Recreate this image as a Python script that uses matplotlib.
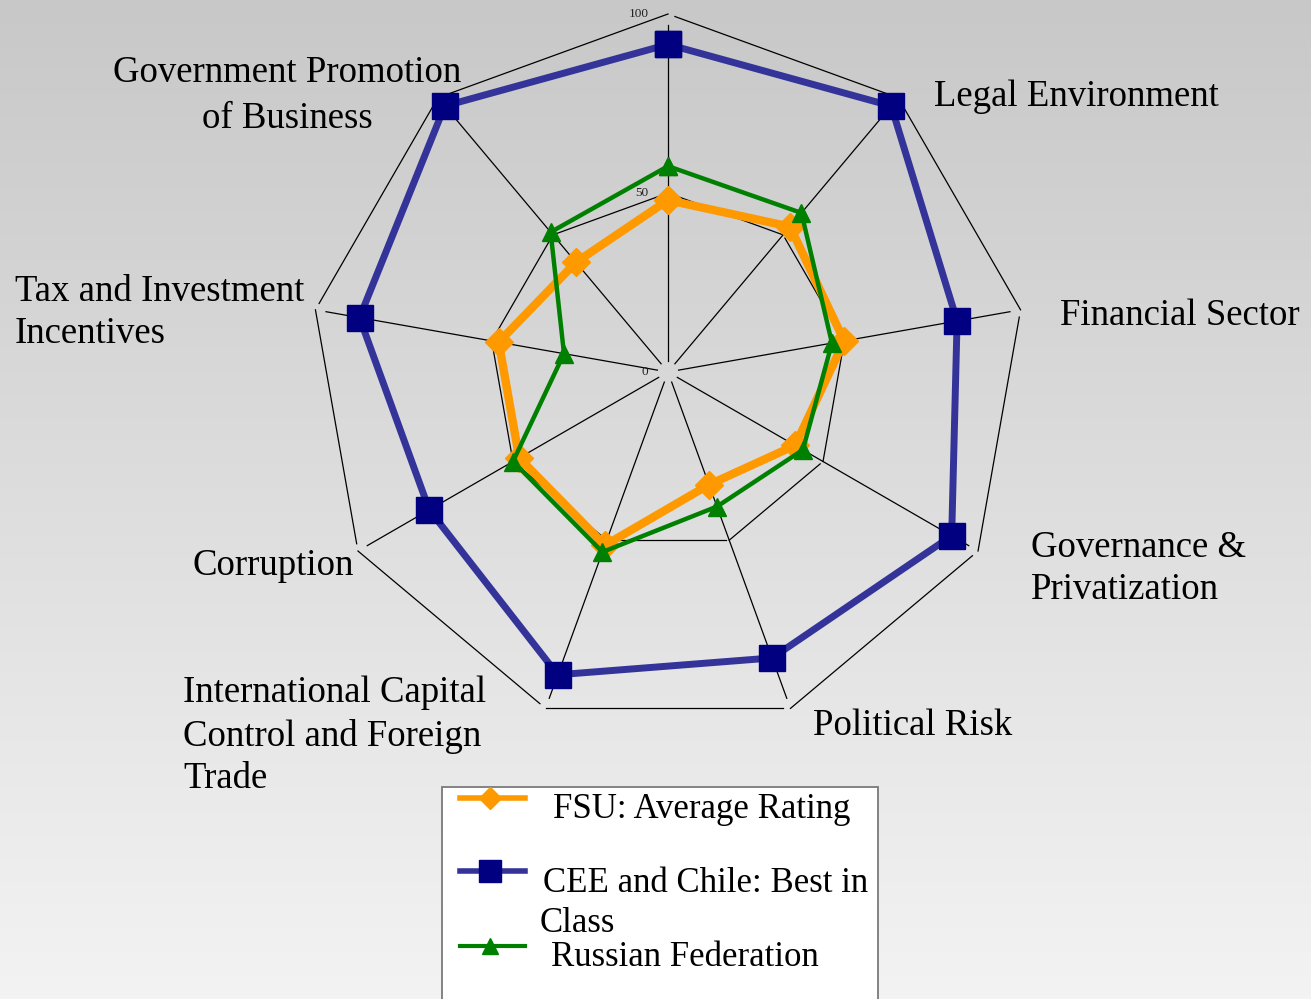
import numpy as np
import matplotlib.pyplot as plt
from matplotlib.colors import LinearSegmentedColormap
from matplotlib.patches import Rectangle

categories = ['', 'Legal Environment', 'Financial Sector', 'Governance &\nPrivatization',
              'Political Risk', 'International Capital\nControl and Foreign\nTrade',
              'Corruption', 'Tax and Investment\nIncentives', 'Government Promotion\nof Business']
fsu = [48, 53, 50, 41, 33.5, 51.5, 48, 48, 40]
best = [91.5, 97, 82, 91.5, 85, 90, 77, 87.5, 97]
russia = [57.5, 58, 46.5, 43.5, 40, 53.5, 50, 29.5, 51]
series_names = ['FSU: Average Rating', 'CEE and Chile: Best in\nClass', 'Russian Federation']
r_ticks = [0, 50, 100]

plt.rcParams['font.family'] = ['Liberation Serif', 'DejaVu Serif']

W, H = 1311, 999
fig = plt.figure(figsize=(W / 100, H / 100), dpi=100)

# background gradient + texts, in pixel coords (y down)
bg = fig.add_axes([0, 0, 1, 1], zorder=0)
cmap = LinearSegmentedColormap.from_list('bg', ['#c8c8c8', '#f3f3f3'])
bg.imshow(np.linspace(0, 1, 256).reshape(-1, 1), cmap=cmap, aspect='auto', extent=[0, W, H, 0])
bg.set_xlim(0, W)
bg.set_ylim(H, 0)
bg.axis('off')

# radar
cx, cy, R = 668, 372, 358
ax = fig.add_axes([(cx - R) / W, 1 - (cy + R) / H, 2 * R / W, 2 * R / H], projection='polar', zorder=1)
ax.set_theta_zero_location('N')
ax.set_theta_direction(-1)
ax.set_ylim(0, 100)
ax.axis('off')

n = len(categories)
theta = np.deg2rad(np.arange(n) * 360 / n)

# spokes
for t in theta:
    ax.plot([t, t], [3, 97], color='black', lw=0.9, clip_on=False)


def edge(t1, t2, r, a=0.03, b=1.0):
    p1 = np.array([r * np.cos(t1), r * np.sin(t1)])
    p2 = np.array([r * np.cos(t2), r * np.sin(t2)])
    pa = p1 + a * (p2 - p1)
    pb = p1 + b * (p2 - p1)
    return ([np.arctan2(pa[1], pa[0]), np.arctan2(pb[1], pb[0])],
            [np.hypot(*pa), np.hypot(*pb)])


# grid polygons at 50 and 100
for rr in r_ticks[1:]:
    for i in range(n):
        tt, rs = edge(theta[i], theta[(i + 1) % n], rr)
        ax.plot(tt, rs, color='black', lw=0.9, clip_on=False)

for rr in r_ticks:
    ax.annotate(str(rr), xy=(0, rr), xytext=(-14, 0), textcoords='offset points',
                ha='right', va='center', fontsize=9.5, color='#222222', annotation_clip=False)

tc = np.append(theta, theta[0])
ax.plot(tc, best + best[:1], color='#333399', lw=5, marker='s', ms=19,
        mfc='#000080', mec='#000080', clip_on=False, zorder=3)
ax.plot(tc, fsu + fsu[:1], color='#ff9900', lw=6, marker='D', ms=14,
        mfc='#ff9900', mec='#ff9900', clip_on=False, zorder=4)
ax.plot(tc, russia + russia[:1], color='#008000', lw=3.2, marker='^', ms=13,
        mfc='#008000', mec='#008000', clip_on=False, zorder=5)

# category labels
label_pos = [None, (934, 97, 'left', 1.3), (1060, 316, 'left', 1.3), (1031, 569, 'left', 1.3),
             (813, 726, 'left', 1.3), (183, 736, 'left', 1.3), (193, 566, 'left', 1.3),
             (15, 313, 'left', 1.3), (287, 96, 'center', 1.42)]
for lab, pos in zip(categories, label_pos):
    if pos is None or not lab:
        continue
    x, y, ha, ls = pos
    bg.text(x, y, lab, ha=ha, va='center', multialignment=ha, fontsize=26.5,
            linespacing=ls, color='black')

# legend
bg.add_patch(Rectangle((442, 787), 436, 240, facecolor='white', edgecolor='#7a7a7a', lw=1.3))
styles = [dict(color='#ff9900', lw=4, marker='D', ms=11, mfc='#ff9900', mec='#ff9900'),
          dict(color='#333399', lw=4, marker='s', ms=16, mfc='#000080', mec='#000080'),
          dict(color='#008000', lw=3, marker='^', ms=12, mfc='#008000', mec='#008000')]
handle_y = [798, 871, 946]
for st, hy in zip(styles, handle_y):
    bg.plot([460, 525], [hy, hy], color=st['color'], lw=st['lw'])
    bg.plot([490], [hy], ls='none', marker=st['marker'], ms=st['ms'], mfc=st['mfc'], mec=st['mec'])

text_pos = [[(553, 810)], [(543, 884), (540, 924)], [(551, 958)]]
for name, poss in zip(series_names, text_pos):
    for line, (x, y) in zip(name.split('\n'), poss):
        bg.text(x, y, line, ha='left', va='center', fontsize=25, color='black')

fig.savefig('out.png', dpi=100)
